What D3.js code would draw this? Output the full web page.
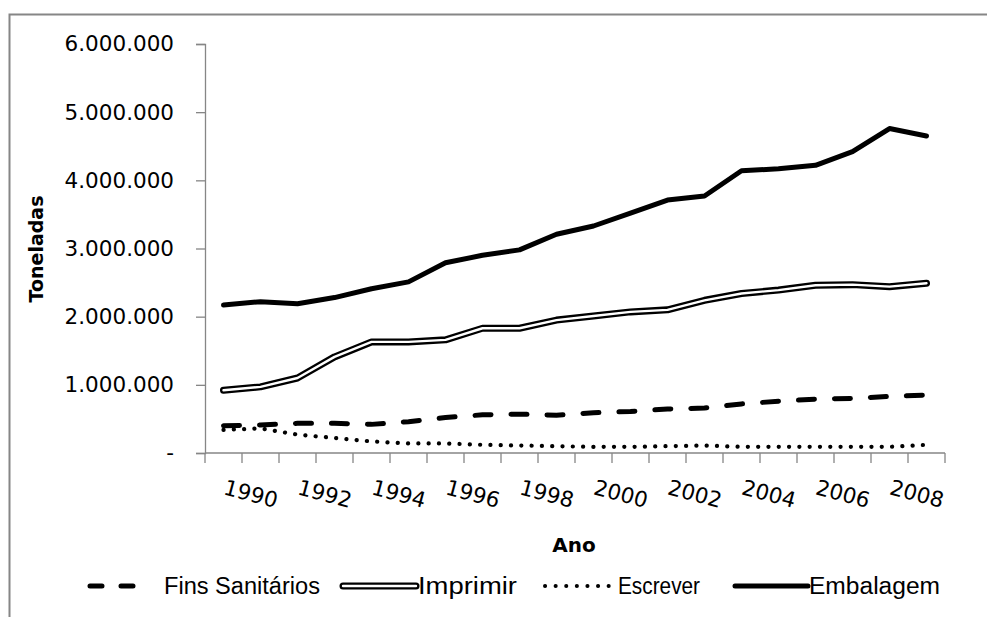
<html>
<head>
  <title>Papel por tipo</title>
  <script src='https://d3js.org/d3.v7.min.js'></script>
  <style>
    body { margin: 0; background: #fff; }
    text { font-family: 'DejaVu Sans', sans-serif; fill: #000; }
  </style>
</head>
<body>
<script>
// values (toneladas)
var years = [1990,1991,1992,1993,1994,1995,1996,1997,1998,1999,2000,2001,2002,2003,2004,2005,2006,2007,2008,2009];
var finsSanitarios = [400000,410000,435000,435000,420000,460000,520000,560000,570000,555000,590000,610000,645000,660000,720000,760000,790000,800000,830000,850000];
var imprimir = [920000,970000,1100000,1410000,1630000,1630000,1660000,1830000,1830000,1950000,2010000,2070000,2100000,2240000,2340000,2390000,2460000,2470000,2440000,2490000];
var escrever = [340000,360000,270000,220000,170000,140000,140000,120000,110000,100000,90000,90000,100000,110000,90000,90000,90000,90000,90000,120000];
var embalagem = [2170000,2220000,2190000,2280000,2410000,2510000,2790000,2900000,2980000,3210000,3330000,3520000,3710000,3770000,4140000,4170000,4220000,4420000,4760000,4650000];
var yTicks = [0,1000000,2000000,3000000,4000000,5000000,6000000];
var xLabels = [1990,1992,1994,1996,1998,2000,2002,2004,2006,2008];
var seriesNames = ['Fins Sanitários','Imprimir','Escrever','Embalagem'];

var width = 987, height = 617;
var axisColor = '#868686';

var svg = d3.select('body').append('svg')
  .attr('width', width)
  .attr('height', height);

// outer chart frame (cut off at right and bottom)
svg.append('path')
  .attr('d', 'M9.5,' + height + 'V14.5H' + width)
  .attr('fill', 'none')
  .attr('stroke', axisColor)
  .attr('stroke-width', 2);

var x = d3.scaleBand().domain(years).range([205, 945]).padding(0);
var y = d3.scaleLinear().domain([0, 6000000]).range([453, 44]);
var cx = function(d) { return x(d) + x.bandwidth() / 2; };

var loc = d3.formatLocale({decimal: ',', thousands: '.', grouping: [3], currency: ['', '']});
var fmt = loc.format(',d');

// y axis
var yAxis = svg.append('g')
  .attr('transform', 'translate(' + x.range()[0] + ',0)')
  .call(d3.axisLeft(y).tickValues(yTicks).tickSize(9).tickPadding(22)
    .tickFormat(function(d) { return d === 0 ? '-' : fmt(d); }));
yAxis.select('.domain').attr('stroke', axisColor).attr('stroke-width', 1.3);
yAxis.selectAll('.tick line').attr('stroke', axisColor).attr('stroke-width', 1.3);
yAxis.selectAll('.tick text')
  .style('font-family', "'DejaVu Sans', sans-serif")
  .style('font-size', '21.5px')
  .attr('fill', '#1a1a1a');

// x axis: line plus ticks between categories
var xg = svg.append('g');
xg.append('line')
  .attr('x1', x.range()[0]).attr('x2', x.range()[1])
  .attr('y1', y(0)).attr('y2', y(0))
  .attr('stroke', axisColor).attr('stroke-width', 1.3);
xg.selectAll('line.tk')
  .data(years.concat(['end']))
  .enter().append('line')
  .attr('class', 'tk')
  .attr('x1', function(d) { return d === 'end' ? x.range()[1] : x(d); })
  .attr('x2', function(d) { return d === 'end' ? x.range()[1] : x(d); })
  .attr('y1', y(0)).attr('y2', y(0) + 10)
  .attr('stroke', axisColor).attr('stroke-width', 1.3);

xg.selectAll('text.xl')
  .data(xLabels)
  .enter().append('text')
  .attr('class', 'xl')
  .attr('transform', function(d) { return 'translate(' + (cx(d) - 1) + ',' + (y(0) + 41) + ') rotate(15)'; })
  .style('font-size', '21.5px')
  .attr('fill', '#1a1a1a')
  .text(function(d) { return d; });

// axis titles
svg.append('text')
  .attr('x', 574).attr('y', 552)
  .attr('text-anchor', 'middle')
  .style('font-size', '20px')
  .style('font-weight', 'bold')
  .text('Ano');

svg.append('text')
  .attr('transform', 'translate(43,249) rotate(-90)')
  .attr('text-anchor', 'middle')
  .style('font-size', '19px')
  .style('font-weight', 'bold')
  .text('Toneladas');

// lines
var line = d3.line()
  .x(function(d, i) { return cx(years[i]); })
  .y(function(d) { return y(d); });

var plot = svg.append('g');

plot.append('path').datum(escrever)
  .attr('d', line)
  .attr('fill', 'none').attr('stroke', '#000')
  .attr('stroke-width', 4.2)
  .attr('stroke-linecap', 'round')
  .attr('stroke-dasharray', '0.1,10.2');

plot.append('path').datum(finsSanitarios)
  .attr('d', line)
  .attr('fill', 'none').attr('stroke', '#000')
  .attr('stroke-width', 5)
  .attr('stroke-linecap', 'round')
  .attr('stroke-dasharray', '16,20');

plot.append('path').datum(imprimir)
  .attr('d', line)
  .attr('fill', 'none').attr('stroke', '#000')
  .attr('stroke-width', 7)
  .attr('stroke-linejoin', 'round')
  .attr('stroke-linecap', 'round');
plot.append('path').datum(imprimir)
  .attr('d', line)
  .attr('fill', 'none').attr('stroke', '#fff')
  .attr('stroke-width', 2.4)
  .attr('stroke-linejoin', 'round')
  .attr('stroke-linecap', 'round');

plot.append('path').datum(embalagem)
  .attr('d', line)
  .attr('fill', 'none').attr('stroke', '#000')
  .attr('stroke-width', 5)
  .attr('stroke-linejoin', 'round')
  .attr('stroke-linecap', 'round');

// legend
var ly = 586;
var legend = svg.append('g');
var sample = [[88, 135], [343, 416], [545, 610], [735, 808]];
var textX = [164, 418, 618, 809];
var textW = [156, 99, 82, 131];

legend.append('line')
  .attr('x1', sample[0][0] + 2).attr('x2', sample[0][1])
  .attr('y1', ly).attr('y2', ly)
  .attr('stroke', '#000').attr('stroke-width', 5)
  .attr('stroke-linecap', 'round')
  .attr('stroke-dasharray', '12,19');

legend.append('line')
  .attr('x1', sample[1][0]).attr('x2', sample[1][1])
  .attr('y1', ly).attr('y2', ly)
  .attr('stroke', '#000').attr('stroke-width', 7)
  .attr('stroke-linecap', 'round');
legend.append('line')
  .attr('x1', sample[1][0]).attr('x2', sample[1][1])
  .attr('y1', ly).attr('y2', ly)
  .attr('stroke', '#fff').attr('stroke-width', 2.4)
  .attr('stroke-linecap', 'round');

legend.append('line')
  .attr('x1', sample[2][0]).attr('x2', sample[2][1])
  .attr('y1', ly).attr('y2', ly)
  .attr('stroke', '#000').attr('stroke-width', 4)
  .attr('stroke-linecap', 'round')
  .attr('stroke-dasharray', '0.1,10.5');

legend.append('line')
  .attr('x1', sample[3][0]).attr('x2', sample[3][1])
  .attr('y1', ly).attr('y2', ly)
  .attr('stroke', '#000').attr('stroke-width', 5)
  .attr('stroke-linecap', 'round');

legend.selectAll('text')
  .data(seriesNames)
  .enter().append('text')
  .attr('x', function(d, i) { return textX[i]; })
  .attr('y', ly + 8)
  .attr('textLength', function(d, i) { return textW[i]; })
  .attr('lengthAdjust', 'spacingAndGlyphs')
  .style('font-family', "'Liberation Sans Narrow', 'Liberation Sans', sans-serif")
  .style('font-size', '23.5px')
  .attr('fill', '#222')
  .text(function(d) { return d; });
</script>
</body>
</html>
